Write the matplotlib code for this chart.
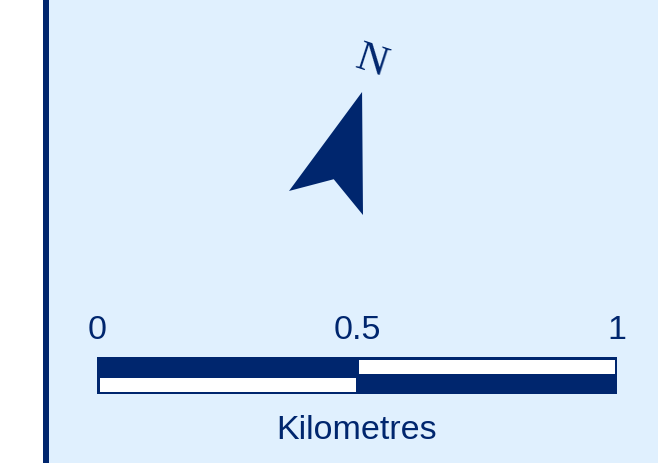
import numpy as np
import matplotlib
matplotlib.use("Agg")
import matplotlib.pyplot as plt
from matplotlib.patches import Rectangle, Polygon

# ---- data ----
scale_ticks = [0, 0.5, 1]
scale_labels = ["0", "0.5", "1"]
scale_segments = [0, 0.5, 1]          # km boundaries of alternating segments
unit_label = "Kilometres"
north_label = "N"
arrow_heading_deg = 18                # clockwise from straight up

NAVY = "#00266E"
LIGHT = "#E0F0FE"

W, H = 658, 463
fig = plt.figure(figsize=(W / 100, H / 100), dpi=100)
fig.patch.set_facecolor("white")
ax = fig.add_axes([0, 0, 1, 1])
ax.set_xlim(0, W)
ax.set_ylim(0, H)
ax.axis("off")

# background panel and left frame line
ax.add_patch(Rectangle((49, 0), W - 49, H, facecolor=LIGHT, edgecolor="none"))
ax.add_patch(Rectangle((43, 0), 6, H, facecolor=NAVY, edgecolor="none"))

# ---- north arrow ----
base = np.array([326.0, 260.0])
L, hw, notch = 116.7, 38.9, 25.0
local = np.array([[0, L], [hw, 0], [0, notch], [-hw, 0]])
t = np.deg2rad(arrow_heading_deg)
R = np.array([[np.cos(t), np.sin(t)], [-np.sin(t), np.cos(t)]])
pts = local @ R.T + base
ax.add_patch(Polygon(pts, closed=True, facecolor=NAVY, edgecolor="none"))
npos = np.array([0, 148.0]) @ R.T + base
ax.text(npos[0], npos[1], north_label, rotation=-arrow_heading_deg,
        rotation_mode="anchor", ha="center", va="center",
        fontsize=31, family="Liberation Serif", color=NAVY)

# ---- scale bar ----
x0, length = 97.0, 520.0
y_bot, y_top = 463 - 394, 463 - 357
y_mid = (y_bot + y_top) / 2
def kx(v):
    return x0 + v * length

ax.add_patch(Rectangle((kx(0), y_bot), length, y_top - y_bot,
                       facecolor=NAVY, edgecolor="none"))
for i in range(len(scale_segments) - 1):
    a, b = scale_segments[i], scale_segments[i + 1]
    if i % 2 == 0:
        # white on the bottom row
        ax.add_patch(Rectangle((kx(a) + 3, y_bot + 2), kx(b) - kx(a) - 4,
                               (y_mid - 2) - (y_bot + 2),
                               facecolor="white", edgecolor="none"))
    else:
        # white on the top row
        ax.add_patch(Rectangle((kx(a) + 2, y_mid + 2), kx(b) - kx(a) - 4,
                               (y_top - 3) - (y_mid + 2),
                               facecolor="white", edgecolor="none"))

for v, lab in zip(scale_ticks, scale_labels):
    ax.text(kx(v), 463 - 339, lab, ha="center", va="baseline",
            fontsize=24.5, family="Liberation Sans", color=NAVY)

ax.text(kx(0.5), 463 - 439, unit_label, ha="center", va="baseline",
        fontsize=24.5, family="Liberation Sans", color=NAVY)

fig.savefig("out.png", dpi=100, facecolor=fig.get_facecolor())
